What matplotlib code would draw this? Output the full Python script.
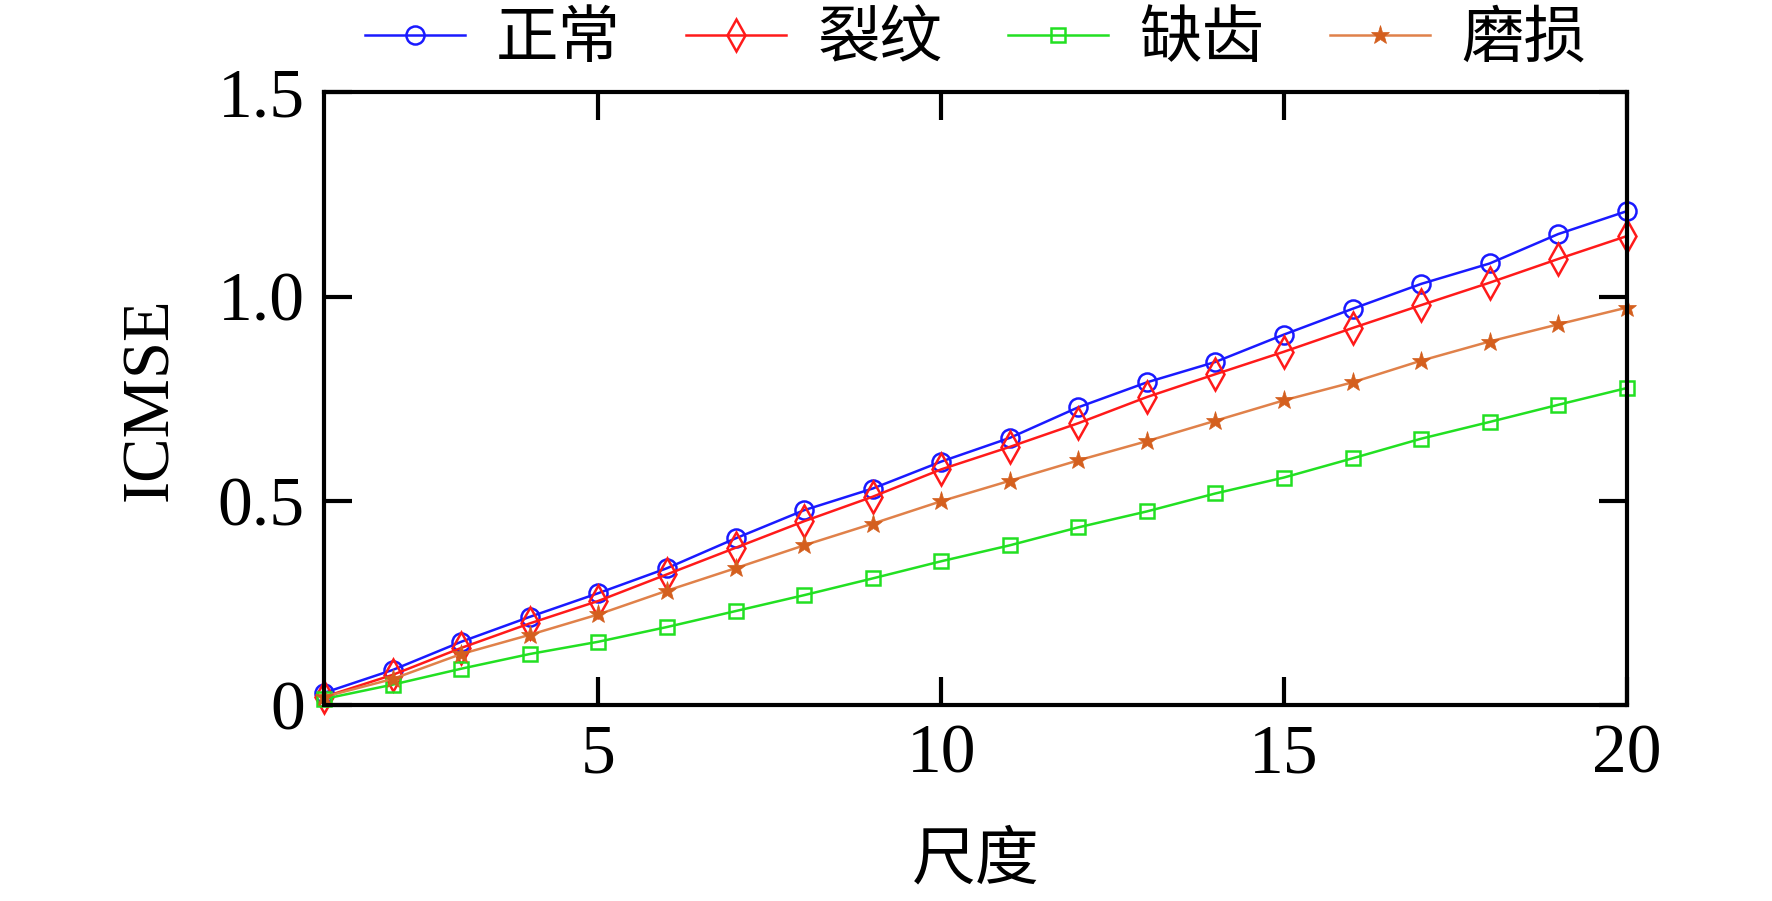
import numpy as np
import matplotlib
matplotlib.use("Agg")
import matplotlib.pyplot as plt
from matplotlib.ticker import FixedLocator, FixedFormatter

plt.rcParams['font.family'] = ['Liberation Serif', 'Noto Sans CJK SC', 'DejaVu Sans']

scales = list(range(1, 21))
normal = [0.03, 0.086, 0.155, 0.216, 0.274, 0.335, 0.408, 0.477, 0.53, 0.596,
          0.654, 0.729, 0.79, 0.84, 0.907, 0.97, 1.031, 1.081, 1.153, 1.209]
crack = [0.02, 0.074, 0.14, 0.2, 0.255, 0.32, 0.385, 0.45, 0.51, 0.577,
         0.632, 0.69, 0.754, 0.81, 0.865, 0.923, 0.979, 1.034, 1.092, 1.148]
missing = [0.015, 0.05, 0.089, 0.125, 0.155, 0.191, 0.23, 0.269, 0.31, 0.352,
           0.391, 0.435, 0.474, 0.518, 0.557, 0.604, 0.652, 0.693, 0.735, 0.776]
wear = [0.02, 0.064, 0.125, 0.172, 0.222, 0.28, 0.335, 0.391, 0.444, 0.499,
        0.549, 0.599, 0.646, 0.696, 0.746, 0.79, 0.843, 0.89, 0.932, 0.973]
labels = ['正常', '裂纹', '缺齿', '磨损']

fig = plt.figure(figsize=(17.72, 9.01), dpi=100)
ax = fig.add_axes([0.183, 0.2175, 0.735, 0.68])

ax.plot(scales, normal, color='#1a1aff', lw=1.8, marker='o', ms=13,
        mfc='none', mec='#1a1aff', mew=1.8, label=labels[0], clip_on=False)
ax.plot(scales, crack, color='#ff1a1a', lw=1.8, marker='d', ms=16,
        mfc='none', mec='#ff1a1a', mew=1.8, label=labels[1], clip_on=False)
ax.plot(scales, missing, color='#22e022', lw=1.8, marker='s', ms=10,
        mfc='none', mec='#22e022', mew=1.8, label=labels[2], clip_on=False)
ax.plot(scales, wear, color='#e0814a', lw=1.8, marker='*', ms=14,
        mfc='#d45f1e', mec='#d45f1e', mew=0.5, label=labels[3], clip_on=False)

ax.set_xlim(1, 20)
ax.set_ylim(0, 1.5)
ax.xaxis.set_major_locator(FixedLocator([5, 10, 15, 20]))
ax.yaxis.set_major_locator(FixedLocator([0, 0.5, 1.0, 1.5]))
ax.yaxis.set_major_formatter(FixedFormatter(['0', '0.5', '1.0', '1.5']))
ax.tick_params(direction='in', length=20, width=3, labelsize=50,
               top=True, right=True, pad=14)
for s in ax.spines.values():
    s.set_linewidth(3)

ax.set_xlabel('尺度', fontsize=46, family=['Noto Sans CJK SC'], labelpad=28)
ax.set_ylabel('ICMSE', fontsize=48, labelpad=26)

leg = ax.legend(loc='center', bbox_to_anchor=(0.5, 1.087), ncol=4,
                frameon=False, numpoints=1, handlelength=1.6,
                columnspacing=1.05, handletextpad=0.5, borderaxespad=0,
                borderpad=0, prop={'family': ['Noto Sans CJK SC'], 'size': 45})

fig.savefig('out.png', dpi=100)
